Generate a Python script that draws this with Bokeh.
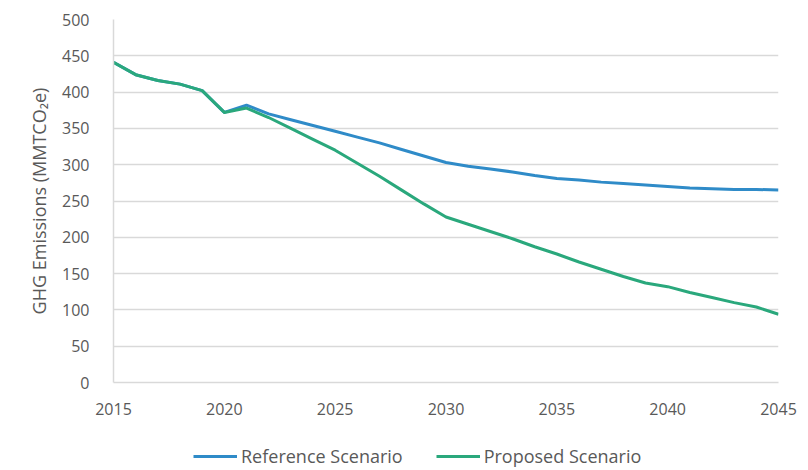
from bokeh.plotting import figure
from bokeh.layouts import column
from bokeh.models import Legend, LegendItem, FixedTicker, Range1d
from bokeh.embed import file_html
from bokeh.resources import INLINE

years = list(range(2015, 2046))
reference = [441, 424, 416, 411, 402, 372, 382, 370, 362, 354, 346, 338, 330, 321, 312, 303,
             298, 294, 290, 285, 281, 279, 276, 274, 272, 270, 268, 267, 266, 266, 265]
proposed = [441, 424, 416, 411, 402, 372, 378, 365, 350, 335, 320, 302, 284, 265, 246, 228,
            218, 208, 198, 187, 177, 166, 156, 146, 137, 132, 124, 117, 110, 104, 94]
series_names = ["Reference Scenario", "Proposed Scenario"]
x_ticks = [2015, 2020, 2025, 2030, 2035, 2040, 2045]
y_ticks = list(range(0, 501, 50))

FONT = "Open Sans"
TXT = "#595959"
GRID = "#d9d9d9"
BLUE = "#2f8bc8"
GREEN = "#2aa87c"

# ---- main chart ----
p = figure(width=808, height=418, frame_width=665, frame_height=363,
           min_border_left=113, min_border_right=30, min_border_top=19, min_border_bottom=36,
           output_backend="svg", toolbar_location=None,
           x_range=Range1d(2015, 2045), y_range=Range1d(0, 500))
p.outline_line_color = None
p.background_fill_color = "white"
p.border_fill_color = "white"

p.line(years, reference, line_color=BLUE, line_width=3, line_join="round")
p.line(years, proposed, line_color=GREEN, line_width=3, line_join="round")

p.xaxis.ticker = FixedTicker(ticks=x_ticks)
p.yaxis.ticker = FixedTicker(ticks=y_ticks)
p.xgrid.grid_line_color = None
p.ygrid.grid_line_color = GRID
p.ygrid.grid_line_width = 1.5

for ax in (p.xaxis[0], p.yaxis[0]):
    ax.axis_line_color = GRID
    ax.axis_line_width = 1.5
    ax.major_tick_line_color = None
    ax.minor_tick_line_color = None
    ax.major_label_text_font = FONT
    ax.major_label_text_font_size = "16px"
    ax.major_label_text_color = TXT
    ax.axis_label_text_font = FONT
    ax.axis_label_text_color = TXT
    ax.axis_label_text_font_style = "normal"

p.xaxis.major_label_standoff = 14
p.yaxis.major_label_standoff = 18
p.yaxis.axis_label = "GHG Emissions (MMTCO\u2082e)"
p.yaxis.axis_label_text_font_size = "18px"
p.yaxis.axis_label_standoff = 8

# ---- legend strip ----
lg = figure(width=808, height=52, min_border=0, min_border_left=0, min_border_right=0,
            min_border_top=0, min_border_bottom=0,
            output_backend="svg", toolbar_location=None,
            x_axis_type=None, y_axis_type=None,
            x_range=Range1d(0, 808), y_range=Range1d(0, 52))
lg.outline_line_color = None
lg.background_fill_color = "white"
lg.border_fill_color = "white"
# same series drawn outside the visible range: only their legend glyphs show
l_ref = lg.line(years, reference, line_color=BLUE, line_width=3)
l_pro = lg.line(years, proposed, line_color=GREEN, line_width=3)

legend = Legend(items=[LegendItem(label=series_names[0], renderers=[l_ref]),
                       LegendItem(label=series_names[1], renderers=[l_pro])],
                orientation="horizontal", location=(80, 2))
legend.label_text_font = FONT
legend.label_text_font_size = "18px"
legend.label_text_color = TXT
legend.glyph_width = 44
legend.spacing = 33
legend.label_standoff = 4
legend.border_line_color = None
legend.background_fill_alpha = 0
legend.margin = 0
legend.padding = 2
lg.add_layout(legend, "center")

layout = column(p, lg, spacing=0)
open("out.html", "w").write(file_html(layout, INLINE))
